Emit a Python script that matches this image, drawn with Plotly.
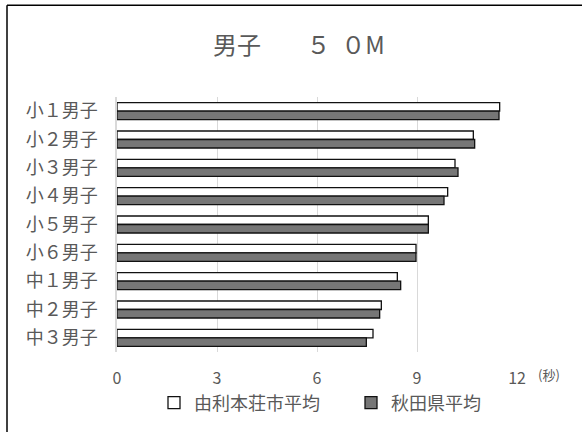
import plotly.graph_objects as go

categories = ["小１男子", "小２男子", "小３男子", "小４男子", "小５男子", "小６男子", "中１男子", "中２男子", "中３男子"]
yurihonjo = [11.48, 10.69, 10.14, 9.92, 9.34, 8.97, 8.41, 7.93, 7.68]
akita = [11.46, 10.73, 10.23, 9.81, 9.34, 8.97, 8.51, 7.88, 7.48]
x_ticks = [0, 3, 6, 9, 12]
series_names = ["由利本荘市平均", "秋田県平均"]

FONT = "Noto Sans CJK JP"
TXT = "#595959"
NB = "\u00a0"

fig = go.Figure()
fig.add_trace(go.Bar(y=categories, x=yurihonjo, orientation="h", name=series_names[0],
                     marker=dict(color="#ffffff", line=dict(color="#111111", width=1.3))))
fig.add_trace(go.Bar(y=categories, x=akita, orientation="h", name=series_names[1],
                     marker=dict(color="#767676", line=dict(color="#111111", width=1.3))))

title_text = "男子　" + NB * 4 + "５" + NB * 2 + "０M"

fig.update_layout(
    width=582, height=432,
    margin=dict(l=117, r=65, t=97, b=79),
    paper_bgcolor="white", plot_bgcolor="white",
    barmode="group", bargap=0.4, bargroupgap=0,
    font=dict(family=FONT, color=TXT),
    title=dict(text=title_text, x=213 / 582, xref="container", xanchor="left",
               y=1 - 45.5 / 432, yanchor="middle", yref="container",
               font=dict(size=24, color=TXT, family=FONT)),
    legend=dict(orientation="h", x=(154 - 117) / 400, xanchor="left", y=(353 - 403) / 256, yanchor="middle",
                traceorder="normal", font=dict(size=18, color=TXT), itemwidth=30,
                entrywidth=152, bgcolor="rgba(0,0,0,0)"),
    showlegend=True,
)
fig.update_xaxes(range=[0, 12], tickvals=x_ticks, showgrid=True, gridcolor="#d9d9d9",
                 gridwidth=1, zeroline=False, showline=False,
                 tickfont=dict(size=16, color=TXT), ticklabelstandoff=15)
fig.update_yaxes(autorange="reversed", showline=True, linecolor="#d9d9d9", linewidth=1.5,
                 showgrid=False, tickfont=dict(size=18, color=TXT), ticklabelstandoff=14)

fig.add_annotation(text="(秒)", x=(549 - 117) / 400, y=(353 - 376) / 256, xref="paper", yref="paper",
                   xanchor="center", yanchor="middle",
                   showarrow=False, font=dict(size=13, color=TXT))

# outer chart border (left and top edges visible)
fig.add_shape(type="line", xref="paper", yref="paper", x0=(7 - 117) / 400, x1=(7 - 117) / 400,
              y0=(353 - 5) / 256, y1=(353 - 440) / 256, line=dict(color="black", width=1.5))
fig.add_shape(type="line", xref="paper", yref="paper", x0=(7 - 117) / 400, x1=(590 - 117) / 400,
              y0=(353 - 5) / 256, y1=(353 - 5) / 256, line=dict(color="black", width=1.5))

fig.write_html("out.html", config={"displayModeBar": False},
               post_script="document.body.style.margin='0';")
